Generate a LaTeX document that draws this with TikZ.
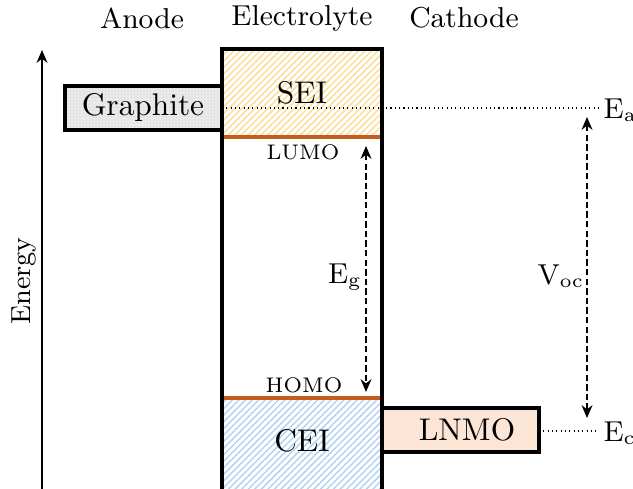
\documentclass[tikz,border=0pt]{standalone}
\usetikzlibrary{patterns.meta,arrows.meta}
\definecolor{seiyel}{RGB}{250,222,150}
\definecolor{ceiblue}{RGB}{178,210,240}
\definecolor{homoline}{RGB}{196,92,30}
\definecolor{lnmofill}{RGB}{252,230,216}
\definecolor{grafill}{RGB}{234,234,234}
\begin{document}
\begin{tikzpicture}[x=0.3125pt,y=-0.3125pt,
  boxline/.style={line width=1.15pt},
  lvl/.style={line width=0.95pt, draw=homoline},
  dimarrow/.style={dash pattern=on 2pt off 1pt, line width=0.6pt, {Stealth[length=4pt,width=3.4pt]}-{Stealth[length=4pt,width=3.4pt]}},
  dotline/.style={densely dotted, line width=0.35pt},
  title/.style={font=\fontsize{9}{10}\selectfont, inner sep=0pt},
  lab/.style={font=\fontsize{9.8}{11}\selectfont, inner sep=0pt},
  mlab/.style={font=\fontsize{9.2}{11}\selectfont, inner sep=0pt},
  small/.style={font=\fontsize{6.6}{7}\selectfont, inner sep=0pt}]
\useasboundingbox (0,0) rectangle (633,488);
% coordinates
\coordinate (eTL) at (222,49);
\coordinate (eBR) at (382,495);
\coordinate (lumoL) at (222,137);
\coordinate (lumoR) at (382,137);
\coordinate (homoL) at (222,398);
\coordinate (homoR) at (382,398);
\coordinate (gTL) at (65,86);
\coordinate (gBR) at (222,130);
\coordinate (cTL) at (382,408);
\coordinate (cBR) at (539,452);
% fills
\fill[grafill] (gTL) rectangle (gBR);
\path[pattern={Dots[distance=1pt,radius=0.15pt]}, pattern color=gray!45] (gTL) rectangle (gBR);
\fill[lnmofill] (cTL) rectangle (cBR);
\path[pattern={Dots[distance=1pt,radius=0.15pt]}, pattern color=orange!25] (cTL) rectangle (cBR);
\path[pattern={Lines[angle=45,distance=1.45pt,line width=0.45pt]}, pattern color=seiyel] (eTL) rectangle (lumoR);
\path[pattern={Lines[angle=45,distance=1.45pt,line width=0.45pt]}, pattern color=ceiblue] (homoL) rectangle (eBR);
% axis
\coordinate (axB) at (42,495);
\coordinate (axT) at (42,50);
\draw[line width=0.6pt, -{Stealth[length=4pt,width=3.4pt]}] (axB) -- (axT);
\node[title, font=\fontsize{8.6}{10}\selectfont, rotate=90] (energy) at (24,281) {Energy};
% titles
\node[title] (anode) at (142,18) {Anode};
\node[title] (electrolyte) at (302,18) {Electrolyte};
\node[title] (cathode) at (464,18) {Cathode};
% dotted energy levels
\coordinate (eaR) at (598,108);
\coordinate (eaL) at (222,108);
\coordinate (ecR) at (598,431);
\coordinate (ecL) at (539,431);
\draw[dotline] (eaL) -- (eaR);
\draw[dotline] (ecL) -- (ecR);
% level lines
\draw[lvl] (lumoL) -- (lumoR);
\draw[lvl] (homoL) -- (homoR);
% boxes
\draw[boxline] (gTL) rectangle (gBR);
\draw[boxline] (cTL) rectangle (cBR);
\draw[boxline] (eTL) rectangle (eBR);
% labels
\node[lab] (graphite) at (143,107) {Graphite};
\node[lab] (lnmo) at (467,430) {LNMO};
\node[lab] (sei) at (302,93) {SEI};
\node[lab] (cei) at (302,441) {CEI};
\node[small] (lumo) at (303,152) {LUMO};
\node[small] (homo) at (304,385) {HOMO};
\node[mlab, anchor=west] (ea) at (603,110) {$\mathrm{E_a}$};
\node[mlab, anchor=west] (ec) at (603,433) {$\mathrm{E_c}$};
% arrows
\coordinate (egT) at (366,146);
\coordinate (egB) at (366,392);
\draw[dimarrow] (egT) -- (egB);
\node[mlab] (eg) at (345,277) {$\mathrm{E_g}$};
\coordinate (vT) at (587,117);
\coordinate (vB) at (587,418);
\draw[dimarrow] (vT) -- (vB);
\node[mlab] (voc) at (561,276) {$\mathrm{V_{oc}}$};
\end{tikzpicture}
\end{document}
